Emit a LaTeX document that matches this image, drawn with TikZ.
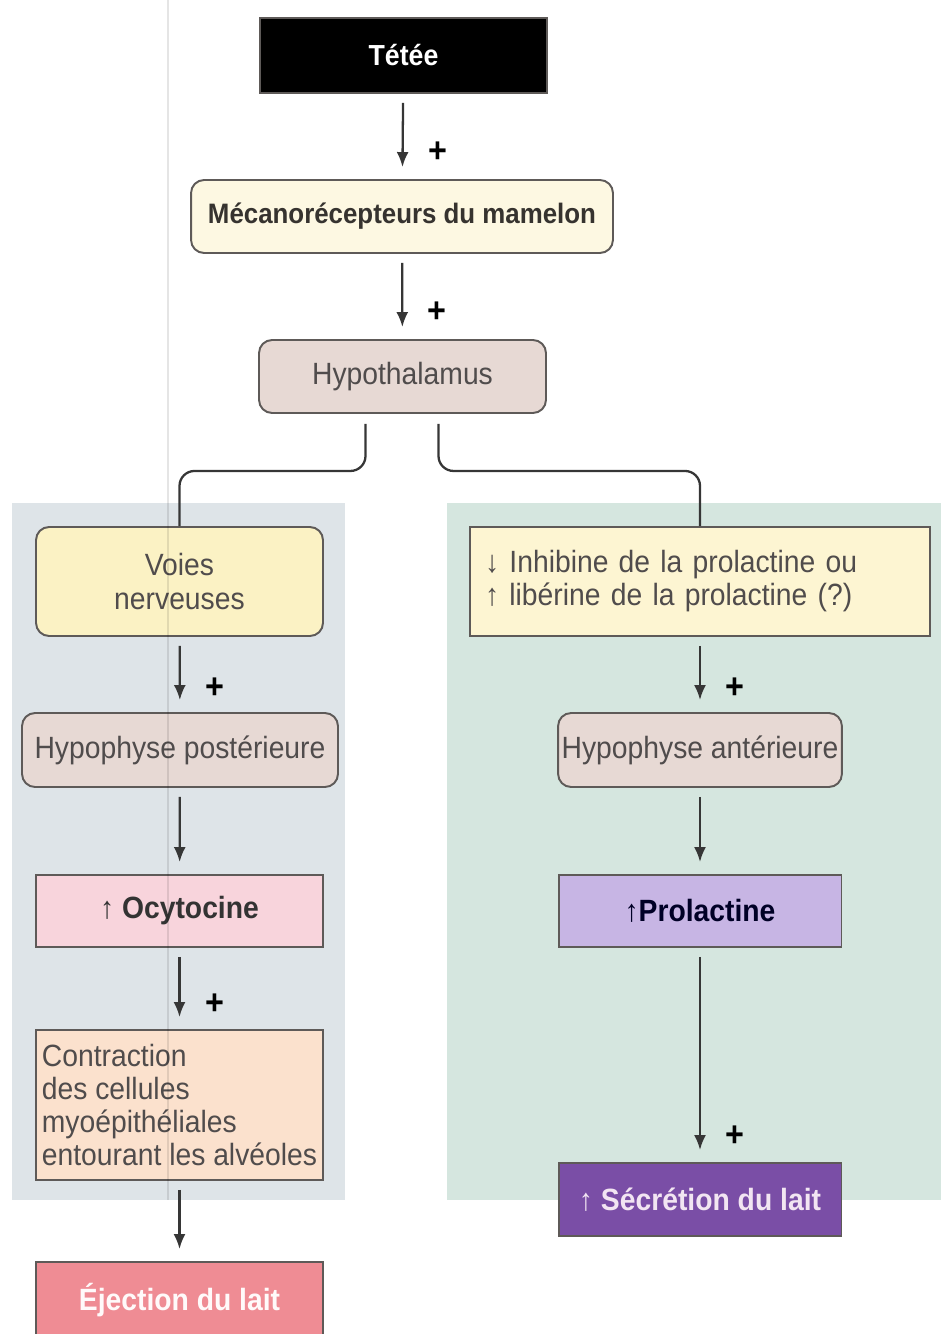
\documentclass[tikz,border=0pt]{standalone}
\usepackage{fontspec}
\setmainfont{Liberation Sans}[FakeStretch=0.92]
\usetikzlibrary{arrows.meta,positioning,calc}
\usepackage{xcolor}
\definecolor{boxline}{HTML}{5E5A58}
\definecolor{arrowgray}{HTML}{363636}
\definecolor{textgray}{HTML}{504C4C}
\definecolor{leftpanel}{HTML}{DEE4E8}
\definecolor{rightpanel}{HTML}{D5E6DF}
\definecolor{cream}{HTML}{FDF8E2}
\definecolor{paleyellow}{HTML}{FBF2C4}
\definecolor{paleyellowb}{HTML}{FDF5D2}
\definecolor{rosegray}{HTML}{E7D9D4}
\definecolor{palepink}{HTML}{F8D4DC}
\definecolor{lavender}{HTML}{C7B5E4}
\definecolor{peach}{HTML}{FBE1CD}
\definecolor{deeppurple}{HTML}{7A4EA6}
\definecolor{salmon}{HTML}{EF8C94}
\newcommand{\mainsize}{\fontsize{17.5}{18.8}\selectfont}
\newcommand{\plussize}{\fontsize{20}{20}\selectfont}
\tikzset{
  box/.style    = {rectangle, draw=boxline, line width=1.1pt, text centered,
                   font=\mainsize, text=textgray, inner sep=2pt},
  rbox/.style   = {box, rounded corners=0.26cm},
  hbox/.style   = {box, font=\mainsize\bfseries},
  arr/.style    = {-{Latex[length=0.3cm,width=0.24cm]}, line width=1.3pt,
                   draw=arrowgray, shorten <=0.18cm, shorten >=0.24cm},
  branch/.style = {line width=1.3pt, draw=arrowgray, rounded corners=0.3cm},
  plus/.style   = {font=\plussize\bfseries, text=black, xshift=0.7cm},
}

\begin{document}
\begin{tikzpicture}[x=0.02cm, y=-0.02cm]
\useasboundingbox (0,0) rectangle (941,1334);

%% panels
\fill[leftpanel]  (12,503)  rectangle (345,1200);
\fill[rightpanel] (447,503) rectangle (941,1200);

%% top chain
\node[hbox, fill=black, text=white, font=\fontsize{16.5}{19}\selectfont\bfseries,
      minimum width=5.74cm, minimum height=1.5cm] (tetee) at (403.5,55.5) {Tétée};
\node[rbox, fill=cream, text=black!85!yellow!60!black, font=\fontsize{16}{19}\selectfont\bfseries,
      minimum width=8.44cm, minimum height=1.46cm] (meca) at (402,216.5) {Mécanorécepteurs du mamelon};
\node[rbox, fill=rosegray, minimum width=5.74cm, minimum height=1.46cm]
  (hypo) at (402.5,376.5) {Hypothalamus};

%% left branch
\node[rbox, fill=paleyellow, align=center, minimum width=5.74cm, minimum height=2.18cm]
  (voies) at (179.5,581.5) {Voies\\nerveuses};
\node[rbox, fill=rosegray, minimum width=6.32cm, minimum height=1.48cm]
  (hpost) at (180,750) {Hypophyse postérieure};
\node[hbox, fill=palepink, text=black!80, minimum width=5.74cm, minimum height=1.44cm]
  (ocyto) at (179.5,911) {↑ Ocytocine};
\node[box, fill=peach, align=left, minimum width=5.74cm, minimum height=3.0cm]
  (contr) at (179.5,1105) {Contraction\\des cellules\\myoépithéliales\\entourant les alvéoles};
\node[hbox, fill=salmon, text=white!92!pink, minimum width=5.74cm, minimum height=1.52cm]
  (eject) at (179.5,1300) {Éjection du lait};

%% right branch
\node[box, fill=paleyellowb, align=left, text width=8.6cm, inner xsep=0.3cm,
      minimum height=2.18cm] (inhib) at (700,581.5)
  {↓ Inhibine de la prolactine ou\\↑ libérine de la prolactine (?)};
\node[rbox, fill=rosegray, minimum width=5.66cm, minimum height=1.48cm]
  (hant) at (700,750) {Hypophyse antérieure};
\node[hbox, fill=lavender, text=black!75!blue!60!black, minimum width=5.66cm, minimum height=1.44cm]
  (prol) at (700,911) {↑Prolactine};
\node[hbox, fill=deeppurple, text=white!90!violet, minimum width=5.66cm, minimum height=1.46cm]
  (secr) at (700,1199.5) {↑ Sécrétion du lait};

%% arrows
\draw[arr] (tetee) -- node[plus, pos=0.69] {+} (meca);
\draw[arr] (meca)  -- node[plus, pos=0.68] {+} (hypo);
\draw[branch] ($(hypo.south)+(-37,10)$) -- ++(0,47) -| (voies.north);
\draw[branch] ($(hypo.south)+(36,10)$)  -- ++(0,47) -| (inhib.north);

\draw[arr] (voies) -- node[plus, pos=0.68] {+} (hpost);
\draw[arr] (hpost) -- (ocyto);
\draw[arr] (ocyto) -- node[plus, pos=0.69] {+} (contr);
\draw[arr] (contr) -- (eject);

\draw[arr] (inhib) -- node[plus, pos=0.68] {+} (hant);
\draw[arr] (hant)  -- (prol);
\draw[arr] (prol)  -- node[plus, pos=0.88] {+} (secr);

%% fold in the page
\draw[black, opacity=0.1, line width=0.8pt] (168,0) -- (168,1200);

\end{tikzpicture}
\end{document}
